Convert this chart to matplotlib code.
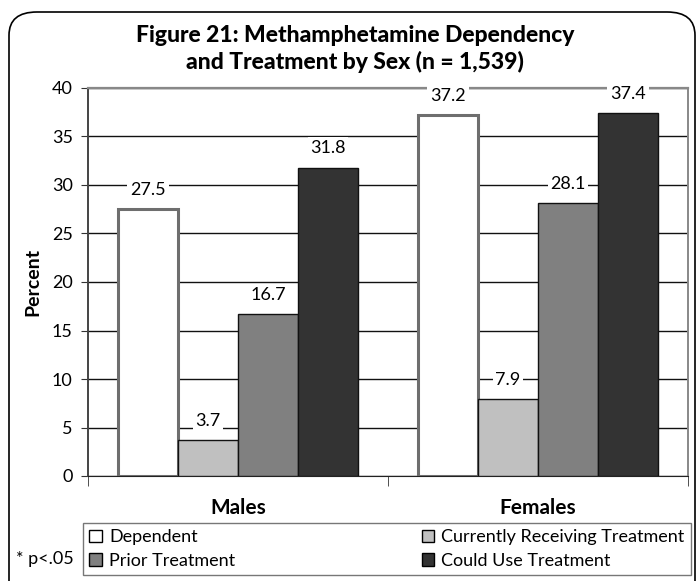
import numpy as np
import matplotlib.pyplot as plt
from matplotlib.patches import FancyBboxPatch, Patch

# data
groups = ['Males', 'Females']
series = ['Dependent', 'Currently Receiving Treatment', 'Prior Treatment', 'Could Use Treatment']
dependent = [27.5, 37.2]
current = [3.7, 7.9]
prior = [16.7, 28.1]
could_use = [31.8, 37.4]

colors = ['#ffffff', '#c0c0c0', '#808080', '#333333']
edges = ['#6e6e6e', '#111111', '#111111', '#111111']

plt.rcParams['font.family'] = ['Lato', 'DejaVu Sans']
plt.rcParams['font.size'] = 13

fig = plt.figure(figsize=(6.98, 5.81), dpi=100)
ax = fig.add_axes([88/698, 1-476/581, 600/698, 388/581])

# rounded frame, cut off at right and bottom like the scan
frame = FancyBboxPatch((9/698, -0.05), 686/698, 1.05 - 12/581,
                       boxstyle='round,pad=0,rounding_size=0.04',
                       transform=fig.transFigure, fill=False,
                       edgecolor='black', linewidth=1.2, clip_on=False)
fig.patches.append(frame)

x = np.arange(len(groups))
w = 0.2
offs = [-0.3, -0.1, 0.1, 0.3]
vals = [dependent, current, prior, could_use]
for i, v in enumerate(vals):
    lw = 2.2 if i == 0 else 1.0
    ax.bar(x + offs[i], v, width=w, color=colors[i], edgecolor=edges[i],
           linewidth=lw, zorder=3, label=series[i])
    for xi, yi in zip(x + offs[i], v):
        ax.annotate('%.1f' % yi, (xi, yi), xytext=(0, 14), textcoords='offset points',
                    ha='center', va='center', fontsize=13, zorder=5,
                    bbox=dict(boxstyle='square,pad=0.15', fc='white', ec='none'))

ax.set_xlim(-0.5, 1.5)
ax.set_ylim(0, 40)
ax.set_yticks(np.arange(0, 41, 5))
ax.yaxis.grid(True, color='#111111', linewidth=1.0, zorder=0)
ax.set_axisbelow(True)

ax.set_xticks(x)
ax.set_xticklabels(groups, fontsize=15, fontweight='bold')
ax.tick_params(axis='x', which='major', length=0, pad=16)
ax.set_xticks([-0.5, 0.5, 1.5], minor=True)
ax.tick_params(axis='x', which='minor', length=7, color='#333333')
ax.tick_params(axis='y', length=5, pad=6, color='#333333', labelsize=13)

ax.spines['left'].set_color('#444444')
ax.spines['bottom'].set_color('#222222')
ax.spines['top'].set_color('#888888')
ax.spines['right'].set_color('#888888')
ax.spines['top'].set_linewidth(1.6)
ax.spines['right'].set_linewidth(1.4)
ax.spines['left'].set_linewidth(1.4)

fig.text(33/698, 1-282/581, 'Percent', rotation=90, ha='center', va='center',
         fontsize=14, fontweight='bold')

fig.text(355/698, 1-36/581, 'Figure 21: Methamphetamine Dependency', ha='center', va='center',
         fontsize=16.5, fontweight='black')
fig.text(355/698, 1-62/581, 'and Treatment by Sex (n = 1,539)', ha='center', va='center',
         fontsize=16.5, fontweight='black')

handles = [Patch(facecolor=colors[i], edgecolor='black', linewidth=1.0) for i in range(4)]
order = [0, 2, 1, 3]
leg = fig.legend([handles[i] for i in order], [series[i] for i in order],
                 loc='lower left', ncol=2, mode='expand',
                 bbox_to_anchor=(83/698, 1-575/581, 608/698, 57/581),
                 fontsize=13, frameon=True, fancybox=False, handlelength=0.7,
                 handleheight=0.7, handletextpad=0.4, borderaxespad=0,
                 labelspacing=0.4, borderpad=0.35)
leg.get_frame().set_edgecolor('#555555')
leg.get_frame().set_linewidth(1.0)

fig.text(45/698, 1-559/581, '* p<.05', ha='center', va='center', fontsize=13)

fig.savefig('out.png', dpi=100)
